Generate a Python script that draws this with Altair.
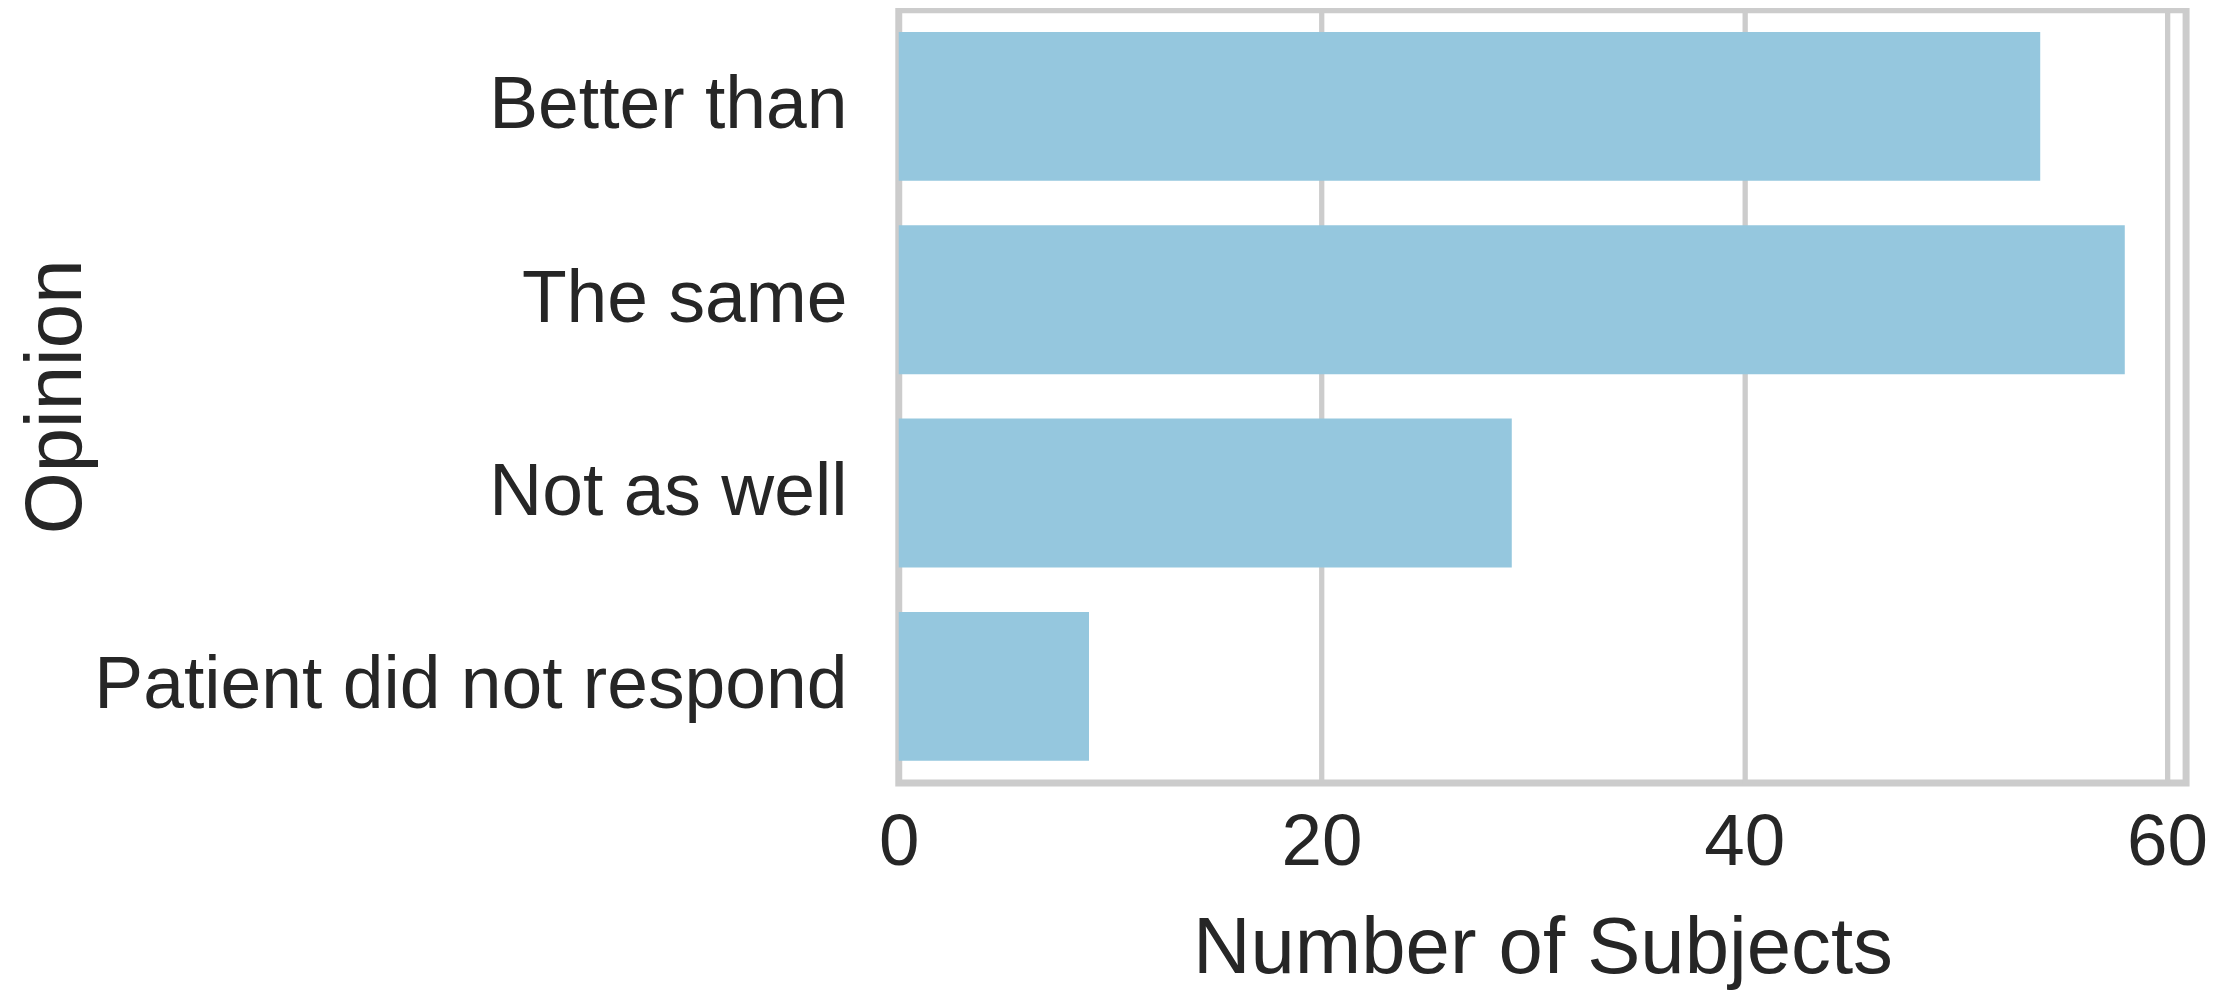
import altair as alt
import pandas as pd

opinions = ["Better than", "The same", "Not as well", "Patient did not respond"]
subjects = [54, 58, 29, 9]
x_ticks = [0, 20, 40, 60]

df = pd.DataFrame({"Opinion": opinions, "Subjects": subjects})

FONT = "Liberation Sans"
TEXT = "#262626"
GRID = "#cccccc"

chart = (
    alt.Chart(df)
    .mark_bar(color="#95C7DE")
    .encode(
        x=alt.X(
            "Subjects:Q",
            scale=alt.Scale(domain=[0, 60.9], nice=False, zero=True),
            axis=alt.Axis(
                title="Number of Subjects",
                values=x_ticks,
                format="d",
                grid=True,
                gridColor=GRID,
                gridWidth=5.3,
                domain=False,
                ticks=False,
                tickSize=0,
                labelPadding=24,
                labelFontSize=73,
                labelFont=FONT,
                labelColor=TEXT,
                titleFontSize=80,
                titleFont=FONT,
                titleColor=TEXT,
                titleFontWeight="normal",
                titlePadding=30,
                labelFlush=False,
            ),
        ),
        y=alt.Y(
            "Opinion:N",
            sort=opinions,
            scale=alt.Scale(paddingInner=0.23, paddingOuter=0.115),
            axis=alt.Axis(
                title="Opinion",
                grid=False,
                domain=False,
                ticks=False,
                tickSize=0,
                labelPadding=52,
                labelFontSize=73.5,
                labelFont=FONT,
                labelColor=TEXT,
                labelLimit=2000,
                titleFontSize=80,
                titleFont=FONT,
                titleColor=TEXT,
                titleFontWeight="normal",
                titleAngle=-90,
                titleAlign="center",
                titleBaseline="alphabetic",
                titleX=-821,
                titleY=388,
            ),
        ),
    )
    .properties(
        width=1292,
        height=776,
        autosize=alt.AutoSizeParams(type="none"),
        padding={"left": 894, "top": 0, "right": 22, "bottom": 212},
        view=alt.ViewBackground(stroke=GRID, strokeWidth=7, fill="white"),
    )
    .configure(background="white")
)

chart.save("out.html", embed_options={"renderer": "svg", "actions": False})
